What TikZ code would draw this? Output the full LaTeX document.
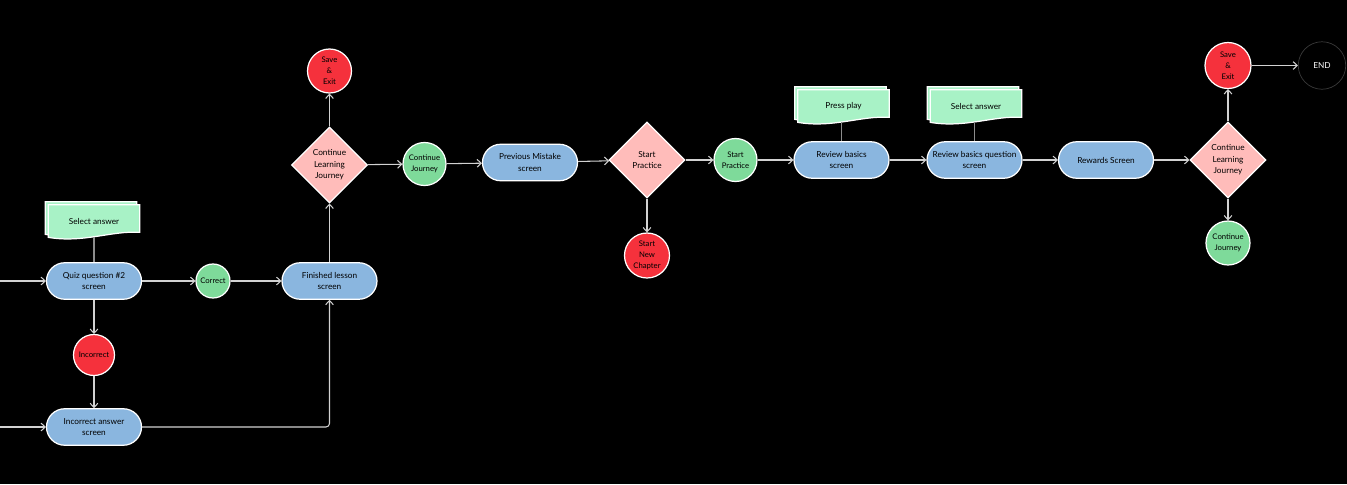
\documentclass[tikz,border=0pt]{standalone}
\usepackage{fontspec}
\setmainfont{Lato}
\usetikzlibrary{positioning,shapes.geometric,arrows.meta}

\definecolor{screenblue}{HTML}{8AB6DF}
\definecolor{choicepink}{HTML}{FFBCBA}
\definecolor{okgreen}{HTML}{7EDA9A}
\definecolor{badred}{HTML}{F5313C}
\definecolor{docgreen}{HTML}{A8F2C6}
\definecolor{linegray}{HTML}{D2D2D2}
\definecolor{tiegray}{HTML}{8C8C8C}
\definecolor{endgray}{HTML}{3A3A3A}

\pgfdeclarelayer{back}
\pgfsetlayers{back,main}

% wavy document card behind a doc node (two stacked sheets)
\newcommand{\wavedoc}[1]{%
  \begin{pgfonlayer}{back}
  \foreach \docoff in {0.06,0} {
    \filldraw[docshape]
      ([xshift=-\docoff cm, yshift=\docoff cm]#1.north west) -- ([xshift=-\docoff cm, yshift=\docoff cm]#1.north east)
      -- ([xshift=-\docoff cm, yshift=\docoff cm+0.1cm]#1.south east)
      .. controls ([xshift=-\docoff cm-0.55cm, yshift=\docoff cm+0.14cm]#1.south east)
             and ([xshift=-\docoff cm+0.7cm, yshift=\docoff cm-0.12cm]#1.south west)
      .. ([xshift=-\docoff cm, yshift=\docoff cm]#1.south west) -- cycle;
  }
  \end{pgfonlayer}}

\begin{document}
\begin{tikzpicture}[x=0.02cm, y=-0.02cm, font=\fontsize{4.7}{6.5}\selectfont]
\tikzset{
    screen/.style={rectangle, rounded corners=0.365cm, draw=white, line width=0.7pt, fill=screenblue, align=center, minimum width=1.9cm, minimum height=0.73cm, inner sep=1pt},
    choice/.style={diamond, aspect=1, draw=white, line width=0.7pt, fill=choicepink, align=center, minimum size=1.52cm, inner sep=0pt},
    okcirc/.style={circle, draw=white, line width=0.7pt, fill=okgreen, align=center, inner sep=0pt, font=\fontsize{4.4}{6.3}\selectfont},
    badcirc/.style={okcirc, fill=badred},
    endcirc/.style={circle, draw=endgray, line width=0.4pt, fill=black, text=white, inner sep=0pt, minimum size=0.95cm},
    doc/.style={rectangle, minimum width=1.82cm, minimum height=0.64cm, inner sep=0pt},
    docshape/.style={fill=docgreen, draw=white, line width=0.7pt},
    flow/.style={draw=linegray, line width=0.6pt, -{Straight Barb[length=2.3pt,width=4.4pt]}},
    tie/.style={draw=tiegray, line width=0.8pt}
}

% background
\begin{pgfonlayer}{back}
\fill[black] (0,0) rectangle (1347,484);
\end{pgfonlayer}
\useasboundingbox (0,0) rectangle (1347,484);

% nodes
\coordinate (in1) at (0,281);
\coordinate (in2) at (0,427);
\node[screen]                            (quiz)      at (94,281)    {Quiz question \#2\\screen};
\node[doc]                               (selA)      at (94,221)    {Select answer};
\node[okcirc, minimum size=0.68cm]       (correct)   at (213,281)   {Correct};
\node[badcirc, minimum size=0.82cm]      (incorrect) at (94,355)    {Incorrect};
\node[screen]                            (wrong)     at (94,427)    {Incorrect answer\\screen};
\node[screen]                            (finished)  at (329.5,281) {Finished lesson\\screen};
\node[choice]                            (goon)      at (329.5,165) {Continue\\Learning\\Journey};
\node[badcirc, minimum size=0.88cm]      (saveA)     at (329.5,71)  {Save\\\&\\Exit};
\node[okcirc, minimum size=0.86cm]       (journeyA)  at (424.5,164) {Continue\\Journey};
\node[screen]                            (mistake)   at (530,162.5) {Previous Mistake\\screen};
\node[choice]                            (practice)  at (647,160)   {Start\\Practice};
\node[okcirc, minimum size=0.86cm]       (startA)    at (735.5,160) {Start\\Practice};
\node[badcirc, minimum size=0.9cm]       (chapter)   at (647,255.5) {Start\\New\\Chapter};
\node[screen]                            (basics)    at (841.5,160) {Review basics\\screen};
\node[doc]                               (play)      at (843.5,106) {Press play};
\node[screen]                            (basicsq)   at (974.5,160) {Review basics question\\screen};
\node[doc]                               (selB)      at (976,106)   {Select answer};
\node[screen]                            (rewards)   at (1106,160)  {Rewards Screen};
\node[choice]                            (goonB)     at (1228,160)  {Continue\\Learning\\Journey};
\node[badcirc, minimum size=0.92cm]      (saveB)     at (1228,65.5) {Save\\\&\\Exit};
\node[endcirc]                           (end)       at (1322,65.5) {END};
\node[okcirc, minimum size=0.88cm]       (journeyB)  at (1228,243)  {Continue\\Journey};

\wavedoc{selA}
\wavedoc{play}
\wavedoc{selB}

% ties
\draw[tie] (quiz.north) -- (quiz.north |- selA.south);
\draw[tie] (basics.north) -- (basics.north |- play.south);
\draw[tie] (basicsq.north) -- (basicsq.north |- selB.south);

% arrows
\draw[flow] (in1) -- (quiz);
\draw[flow] (in2) -- (wrong);
\draw[flow] (quiz) -- (correct);
\draw[flow] (correct) -- (finished);
\draw[flow] (quiz) -- (incorrect);
\draw[flow] (incorrect) -- (wrong);
\draw[flow, rounded corners=2pt] (wrong) -| (finished);
\draw[flow] (finished) -- (goon);
\draw[flow] (goon) -- (saveA);
\draw[flow] (goon) -- (journeyA);
\draw[flow] (journeyA) -- (mistake);
\draw[flow] (mistake) -- (practice);
\draw[flow] (practice) -- (startA);
\draw[flow] (practice) -- (chapter);
\draw[flow] (startA) -- (basics);
\draw[flow] (basics) -- (basicsq);
\draw[flow] (basicsq) -- (rewards);
\draw[flow] (rewards) -- (goonB);
\draw[flow] (goonB) -- (saveB);
\draw[flow] (goonB) -- (journeyB);
\draw[flow] (saveB) -- (end);

\end{tikzpicture}
\end{document}
